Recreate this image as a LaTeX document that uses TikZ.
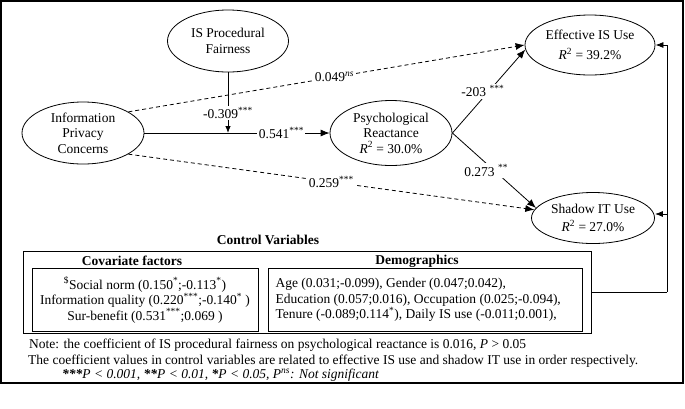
\documentclass[tikz,border=0pt]{standalone}
\usepackage{fontspec}
\setmainfont{Liberation Serif}
\usetikzlibrary{shapes.geometric,arrows.meta}
\begin{document}
\begin{tikzpicture}[x=1pt,y=-1pt,
  every node/.style={font=\fontsize{13.5}{15.5}\selectfont},
  ell/.style={draw, ellipse, line width=0.8pt, inner sep=0pt, align=center},
  conn/.style={line width=0.8pt},
  arr/.style={conn, -{Latex[length=9pt,width=7pt]}},
  dsh/.style={arr, dash pattern=on 4pt off 3pt},
  lab/.style={fill=white, inner sep=1.5pt},
  box/.style={draw, line width=0.9pt, inner sep=0pt},
  ttl/.style={font=\fontsize{13.5}{15.5}\selectfont\bfseries},
  note/.style={anchor=west, inner xsep=2pt, inner ysep=0pt}
]
\useasboundingbox (0,0) rectangle (685,408);
\draw[line width=1.2pt] (1,1) rectangle (683,383);

\node[ell, minimum width=121pt, minimum height=62pt] (fair) at (228,41) {IS Procedural\\Fairness};
\node[ell, minimum width=122pt, minimum height=62pt] (ipc) at (83,133) {Information\\Privacy\\Concerns};
\node[ell, minimum width=122pt, minimum height=65pt] (psy) at (391,133) {Psychological\\Reactance\\\textit{R}\textsuperscript{2} = 30.0\%};
\node[ell, minimum width=130pt, minimum height=60pt] (eff) at (590,45) {Effective IS Use\\[5pt]\textit{R}\textsuperscript{2} = 39.2\%};
\node[ell, minimum width=123pt, minimum height=51pt] (sh) at (593,218) {Shadow IT Use\\[3pt]\textit{R}\textsuperscript{2} = 27.0\%};

\draw[arr] (ipc.east) -- node[lab, pos=0.74] {0.541\textsuperscript{***}} (psy.west);
\coordinate (m) at (fair.south |- ipc.east);
\draw[conn, -{Latex[length=7pt,width=5.5pt]}] (fair.south) -- node[lab, pos=0.67] {-0.309\textsuperscript{***}} (m);

\draw[dsh] (ipc.25) -- node[lab, pos=0.52] {0.049\textsuperscript{\textit{ns}}} (eff.180);
\draw[dsh] (ipc.-25) -- node[lab, pos=0.5] {0.259\textsuperscript{***}} (sh.172);
\draw[arr] (psy.east) -- node[lab, pos=0.5, xshift=-6pt] {-203 \textsuperscript{***}} (eff.184);
\draw[arr] (psy.east) -- node[lab, pos=0.5, xshift=-8pt] {0.273 \textsuperscript{**}} (sh.170);

\node[box, minimum width=568pt, minimum height=82pt] (ctrl) at (307,292) {};
\node[box, minimum width=226pt, minimum height=63pt] (cov) at (145,299.5) {};
\node[box, minimum width=314pt, minimum height=63pt] (dem) at (425,299.5) {};
\node[ttl] (ctit) at (268,240) {Control Variables};
\node[ttl] (covt) at (132,261) {Covariate factors};
\node[ttl] (demt) at (417,261) {Demographics};
\node[align=center] (covx) at (145,300) {\textsuperscript{\$}Social norm (0.150\textsuperscript{*};-0.113\textsuperscript{*})\\Information quality (0.220\textsuperscript{***};-0.140\textsuperscript{*} )\\Sur-benefit (0.531\textsuperscript{***};0.069 )};
\node[align=left, anchor=west] (demx) at (272,300) {Age (0.031;-0.099), Gender (0.047;0.042),\\Education (0.057;0.016), Occupation (0.025;-0.094),\\Tenure (-0.089;0.114\textsuperscript{*}), Daily IS use (-0.011;0.001),};

\coordinate (bus) at (667,292);
\coordinate (b2) at (667,214);
\draw[conn] (ctrl.east) -- (bus);
\draw[conn, -{Latex[length=8pt,width=6pt]}] (bus) |- (eff.east);
\draw[conn, -{Latex[length=8pt,width=6pt]}] (b2) -- (b2 -| sh.east);

\node[note] (n1) at (27,345) {Note: the coefficient of IS procedural fairness on psychological reactance is 0.016, \textit{P} > 0.05};
\node[note] (n2) at (26,361) {The coefficient values in control variables are related to effective IS use and shadow IT use in order respectively.};
\node[note] (n3) at (60,375) {\textit{\textbf{***}P < 0.001, \textbf{**}P < 0.01, \textbf{*}P < 0.05, P\textsuperscript{ns}: Not significant}};
\end{tikzpicture}
\end{document}
